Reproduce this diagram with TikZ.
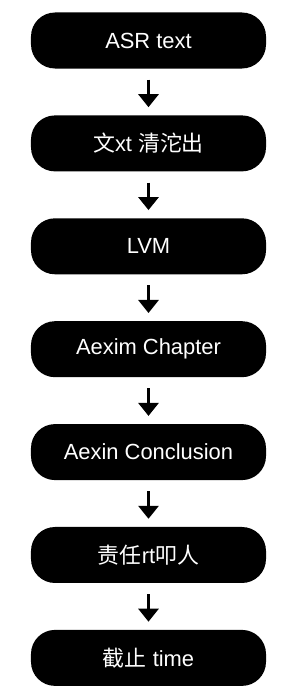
\documentclass[tikz,border=0pt]{standalone}
\usepackage{fontspec}
\setmainfont{Liberation Sans}
\newfontfamily\cjk{Noto Sans CJK SC}
\usepackage{xcolor}
\usepackage{tikz}
\usetikzlibrary{arrows.meta,positioning}

\begin{document}
\begin{tikzpicture}[
    node distance=46.5bp,
    stagebox/.style={rectangle, fill=black, rounded corners=24bp,
                 minimum width=235bp, minimum height=56bp, inner sep=0pt,
                 text=white, font=\fontsize{22}{26}\selectfont, align=center},
    arr/.style={-{Triangle[width=20bp,length=13bp]}, line width=3bp,
                shorten <=11bp, shorten >=8bp},
]
    \useasboundingbox (-148.5bp,40.5bp) rectangle (157.5bp,-655.5bp);
    \node[stagebox] (asr) {ASR text};
    \node[stagebox, below=of asr] (clean) {{\cjk 文}xt {\cjk 清沱出}};
    \node[stagebox, below=of clean] (lvm) {LVM};
    \node[stagebox, below=of lvm] (chapter) {Aexim Chapter};
    \node[stagebox, below=of chapter] (concl) {Aexin Conclusion};
    \node[stagebox, below=of concl] (owner) {{\cjk 责任}rt{\cjk 叩人}};
    \node[stagebox, below=of owner] (deadline) {{\cjk 截止} time};

    \draw[arr] (asr) -- (clean);
    \draw[arr] (clean) -- (lvm);
    \draw[arr] (lvm) -- (chapter);
    \draw[arr] (chapter) -- (concl);
    \draw[arr] (concl) -- (owner);
    \draw[arr] (owner) -- (deadline);
\end{tikzpicture}
\end{document}
